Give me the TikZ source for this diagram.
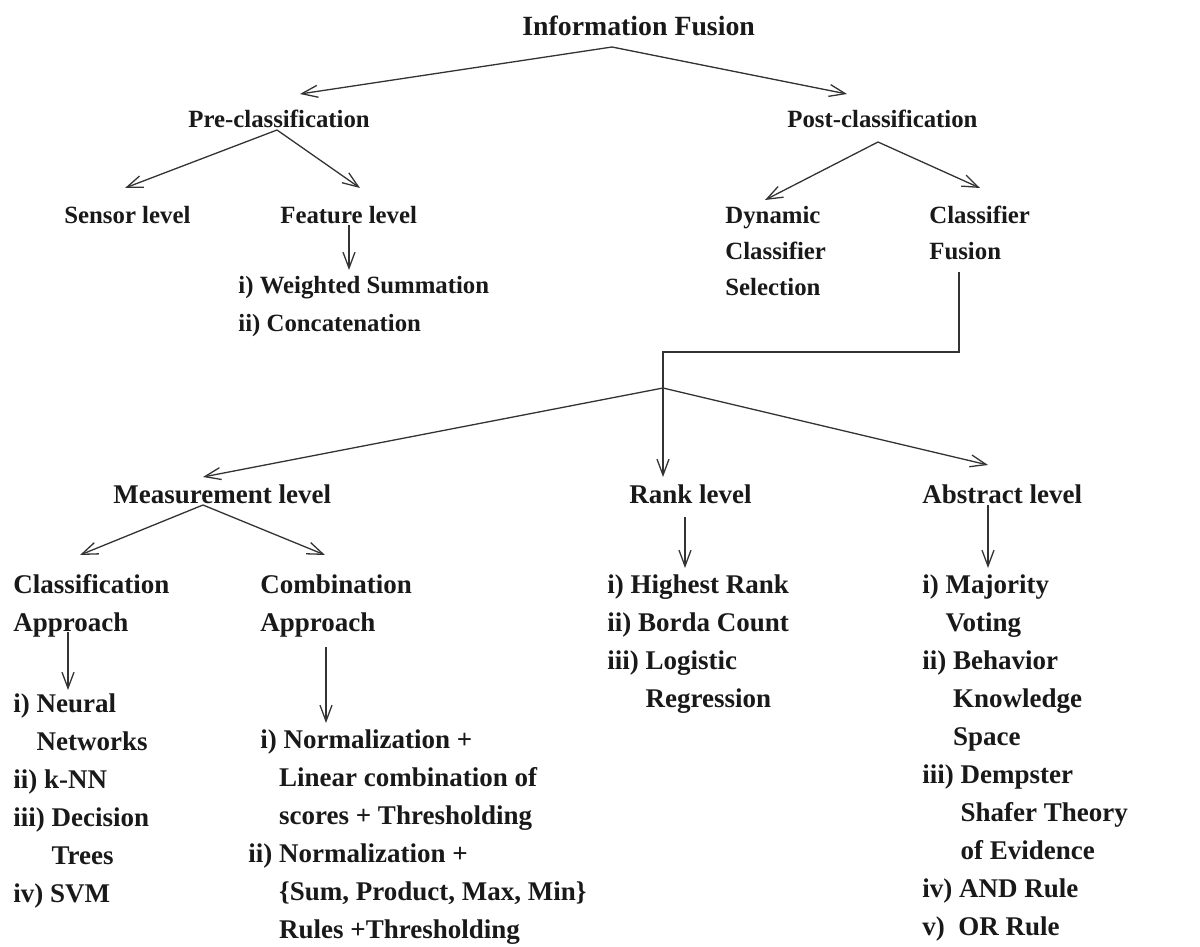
\documentclass[tikz,border=0pt]{standalone}
\usepackage{fontspec}
\setmainfont{Liberation Serif}
\usepackage{tikz}
\usetikzlibrary{arrows.meta}

\newcommand{\hng}[1]{\phantom{#1\ }}

% node positions are the baselines of the last line
\tikzset{
	lvl/.style={inner sep=0pt, anchor=base west, align=left, text=black!90},
	top/.style={lvl, font=\fontsize{12.4}{18}\selectfont\bfseries},
	lst/.style={lvl, font=\fontsize{13.5}{19}\selectfont\bfseries},
	conn/.style={draw=black!80, line width=0.65pt},
	arr/.style={conn, -{Straight Barb[length=8pt,width=6pt]}}
}

\begin{document}
\begin{tikzpicture}[x=0.5pt,y=-0.5pt]
		\useasboundingbox (0,0) rectangle (1200,947);

		% upper levels
		\node[lvl, font=\fontsize{13.9}{18}\selectfont\bfseries] (infofusion) at (522,36) {Information Fusion};
		\node[top] (preclass) at (188,128) {Pre-classification};
		\node[top] (postclass) at (787,128) {Post-classification};
		\node[top] (sensor) at (64,223) {Sensor level};
		\node[top] (feature) at (280,223) {Feature level};
		\node[top, font=\fontsize{12.4}{19}\selectfont\bfseries] (featlist) at (238,331) {i) Weighted Summation\\ii) Concatenation};
		\node[top] (dynamic) at (725,295) {Dynamic\\Classifier\\Selection};
		\node[top] (clfusion) at (929,259) {Classifier\\Fusion};

		% classifier fusion levels
		\node[lst] (measure) at (113,503) {Measurement level};
		\node[lst] (rank) at (629,503) {Rank level};
		\node[lst] (abstract) at (922,503) {Abstract level};
		\node[lst] (classapp) at (13,631) {Classification\\Approach};
		\node[lst] (combapp) at (260,631) {Combination\\Approach};
		\node[lst] (classlist) at (13,902) {i) Neural\\\hng{i)}Networks\\ii) k-NN\\iii) Decision\\\hng{iii)}Trees\\iv) SVM};
		\node[lst] (comblist) at (248,938) {\hspace{6pt}i) Normalization +\\\hng{ii)}Linear combination of\\\hng{ii)}scores + Thresholding\\ii) Normalization +\\\hng{ii)}\{Sum, Product, Max, Min\}\\\hng{ii)}Rules +Thresholding};
		\node[lst] (ranklist) at (607,707) {i) Highest Rank\\ii) Borda Count\\iii) Logistic\\\hng{iii)}Regression};
		\node[lst] (abslist) at (922,935) {i) Majority\\\hng{i)}Voting\\ii) Behavior\\\hng{ii)}Knowledge\\\hng{ii)}Space\\iii) Dempster\\\hng{iii)}Shafer Theory\\\hng{iii)}of Evidence\\iv) AND Rule\\v)\ \ OR Rule};

		% split points
		\coordinate (ifSplit) at (612,47);
		\coordinate (preSplit) at (277,130);
		\coordinate (postSplit) at (878,142);
		\coordinate (fuseBend) at (663,352);
		\coordinate (fuseSplit) at (663,388);
		\coordinate (measSplit) at (203,505);

		\draw[arr] (ifSplit) -- ([shift={(112,-34)}]preclass.base west);
		\draw[arr] (ifSplit) -- ([shift={(60,-34)}]postclass.base west);
		\draw[arr] (preSplit) -- ([shift={(61,-35)}]sensor.base west);
		\draw[arr] (preSplit) -- ([shift={(80,-35)}]feature.base west);
		\draw[arr] ([shift={(69,2)}]feature.base west) -- ([shift={(111,-61)}]featlist.base west);
		\draw[arr] (postSplit) -- ([shift={(40,-95)}]dynamic.base west);
		\draw[arr] (postSplit) -- ([shift={(51,-71)}]clfusion.base west);

		\draw[arr] ([shift={(30,13)}]clfusion.base west) |- (fuseBend) -- ([shift={(34,-26)}]rank.base west);
		\draw[arr] (fuseSplit) -- ([shift={(90,-26)}]measure.base west);
		\draw[arr] (fuseSplit) -- ([shift={(66,-38)}]abstract.base west);

		\draw[arr] (measSplit) -- ([shift={(67,-76)}]classapp.base west);
		\draw[arr] (measSplit) -- ([shift={(65,-76)}]combapp.base west);
		\draw[arr] ([shift={(55,1)}]classapp.base west) -- ([shift={(55,-212)}]classlist.base west);
		\draw[arr] ([shift={(66,16)}]combapp.base west) -- ([shift={(78,-215)}]comblist.base west);
		\draw[arr] ([shift={(56,14)}]rank.base west) -- ([shift={(78,-139)}]ranklist.base west);
		\draw[arr] ([shift={(66,2)}]abstract.base west) -- ([shift={(66,-367)}]abslist.base west);
\end{tikzpicture}
\end{document}
